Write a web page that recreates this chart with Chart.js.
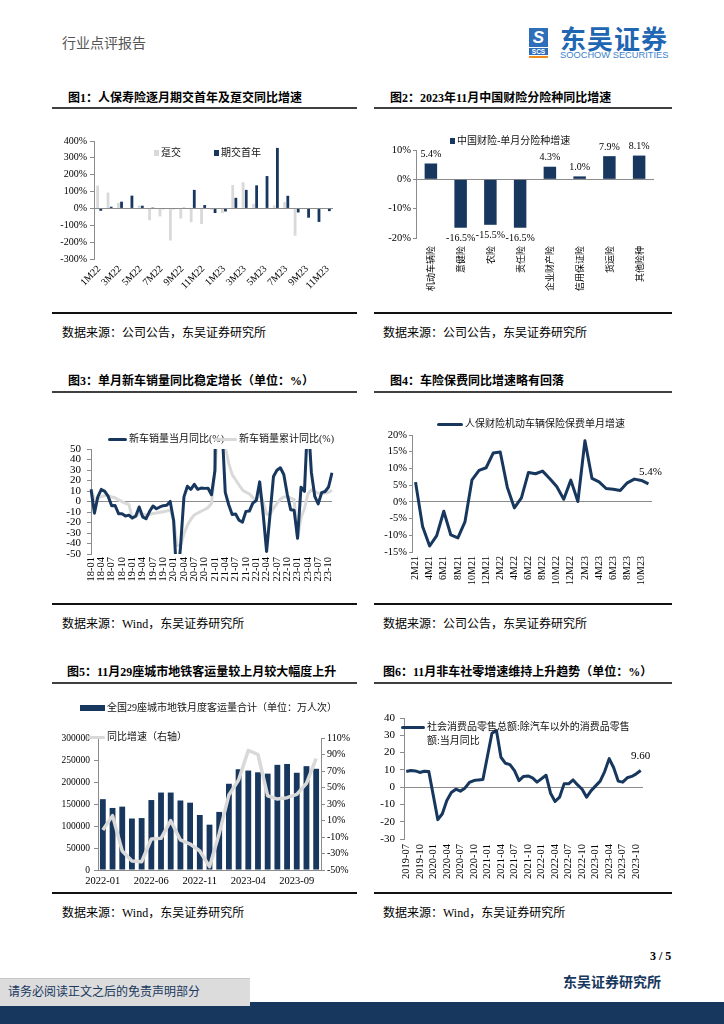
<!DOCTYPE html>
<html lang="zh-CN">
<head>
<meta charset="utf-8">
<title>行业点评报告</title>
<script src="https://cdn.jsdelivr.net/npm/chart.js"></script>
<style>
  html, body { margin: 0; padding: 0; }
  body { width: 724px; height: 1024px; position: relative; overflow: hidden; background: #fff;
         font-family: "Liberation Serif", "Noto Sans CJK SC", serif; color: #000; }
  .abs { position: absolute; white-space: nowrap; }
  .title { font-size: 12px; font-weight: bold; line-height: 14px; font-family: "Liberation Serif", "Noto Sans CJK SC", serif; }
  .rule { height: 2px; background: #404040; }
  .rule-b { height: 2px; background: #111; }
  .src { font-size: 12px; line-height: 14px; }
  .lg { font-size: 10px; line-height: 12px; color: #111; }
  canvas { position: absolute; }
</style>
</head>
<body>

<!-- 页眉 -->
<div class="abs" style="left:62px;top:35px;font-size:14px;line-height:18px;color:#555;">行业点评报告</div>
<div class="abs" style="left:529px;top:28px;width:19px;height:19px;background:#2f6fba;color:#fff;font:bold italic 17px 'Liberation Sans';text-align:center;line-height:19px;">S</div>
<div class="abs" style="left:529px;top:48px;width:19px;height:7px;background:#2f6fba;color:#fff;font:bold 6.5px 'Liberation Sans';text-align:center;line-height:7px;">SCS</div>
<div class="abs" style="left:529px;top:56px;width:19px;height:2px;background:#f08a1c;"></div>
<div class="abs" style="left:560px;top:24px;font:bold 26px 'Noto Sans CJK SC';line-height:28px;letter-spacing:1px;color:#1f66b3;">东吴证券</div>
<div class="abs" style="left:560px;top:50px;font:9.3px 'Liberation Sans';line-height:10px;color:#3b82cc;">SOOCHOW SECURITIES</div>

<!-- 标题行 -->
<div class="abs title" style="left:68px;top:91px;">图1：人保寿险逐月期交首年及趸交同比增速</div>
<div class="abs title" style="left:390px;top:91px;">图2：2023年11月中国财险分险种同比增速</div>
<div class="abs rule" style="left:52px;top:107px;width:305px;"></div>
<div class="abs rule" style="left:374px;top:107px;width:298px;"></div>

<div class="abs title" style="left:68px;top:374px;">图3：单月新车销量同比稳定增长（单位：%）</div>
<div class="abs title" style="left:390px;top:374px;">图4：车险保费同比增速略有回落</div>
<div class="abs rule" style="left:52px;top:391px;width:305px;"></div>
<div class="abs rule" style="left:374px;top:391px;width:298px;"></div>

<div class="abs title" style="left:67px;top:665px;">图5：11月29座城市地铁客运量较上月较大幅度上升</div>
<div class="abs title" style="left:383px;top:665px;">图6：11月非车社零增速维持上升趋势（单位：%）</div>
<div class="abs rule" style="left:52px;top:682px;width:305px;"></div>
<div class="abs rule" style="left:374px;top:682px;width:298px;"></div>

<!-- 图表 -->
<canvas id="c1" width="305" height="188" style="left:52px;top:125px;"></canvas>
<canvas id="c2" width="298" height="188" style="left:374px;top:125px;"></canvas>
<canvas id="c3" width="305" height="184" style="left:52px;top:420px;"></canvas>
<canvas id="c4" width="298" height="184" style="left:374px;top:420px;"></canvas>
<canvas id="c5" width="305" height="203" style="left:52px;top:690px;"></canvas>
<canvas id="c6" width="298" height="203" style="left:374px;top:690px;"></canvas>

<div class="abs rule-b" style="left:52px;top:312px;width:305px;"></div>
<div class="abs rule-b" style="left:374px;top:312px;width:298px;"></div>
<div class="abs rule-b" style="left:52px;top:603px;width:305px;"></div>
<div class="abs rule-b" style="left:374px;top:603px;width:298px;"></div>
<div class="abs rule-b" style="left:52px;top:892px;width:305px;"></div>
<div class="abs rule-b" style="left:374px;top:892px;width:298px;"></div>

<div class="abs src" style="left:62px;top:326px;">数据来源：公司公告，东吴证券研究所</div>
<div class="abs src" style="left:383px;top:326px;">数据来源：公司公告，东吴证券研究所</div>
<div class="abs src" style="left:62px;top:617px;">数据来源：Wind，东吴证券研究所</div>
<div class="abs src" style="left:383px;top:617px;">数据来源：公司公告，东吴证券研究所</div>
<div class="abs src" style="left:62px;top:906px;">数据来源：Wind，东吴证券研究所</div>
<div class="abs src" style="left:383px;top:906px;">数据来源：Wind，东吴证券研究所</div>

<!-- 页脚 -->
<div class="abs" style="left:650px;top:949px;font:bold 12px 'Liberation Serif';">3 / 5</div>
<div class="abs" style="left:563px;top:972px;font:bold 14px 'Noto Sans CJK SC';line-height:18px;color:#17375e;">东吴证券研究所</div>
<div class="abs" style="left:0;top:1002px;width:724px;height:22px;background:#17375e;"></div>
<div class="abs" style="left:0;top:978px;width:250px;height:27px;background:#dcdcdc;border-top:1px solid #c8c8c8;"></div>
<div class="abs" style="left:8px;top:983px;font:12px 'Noto Sans CJK SC';line-height:16px;color:#17375e;">请务必阅读正文之后的免责声明部分</div>

<script>
const NAVY = '#17375e';
const GREY = '#d9d9d9';
const AXIS = '#8c8c8c';

// 图1 人保寿险 趸交 / 期交首年 同比
const months1 = ['1M22','2M22','3M22','4M22','5M22','6M22','7M22','8M22','9M22','10M22','11M22','12M22',
                 '1M23','2M23','3M23','4M23','5M23','6M23','7M23','8M23','9M23','10M23','11M23'];
const dunjiao1 = [135, 94, 33, -3, 18, -70, -47, -190, -60, -82, -93, -10, -28, 139, 155, 27, 2, 18, 38, -162, -3, -3, -4];
const qijiao1 = [-14, 10, 40, 76, 16, 5, -4, -4, 4, 110, 20, -27, -18, 63, 110, 137, 192, 359, 75, -24, -55, -80, -16];

// 图2 中国财险分险种
const cats2 = ['机动车辆险','意健险','农险','责任险','企业财产险','信用保证险','货运险','其他险种'];
const vals2 = [5.4, -16.5, -15.5, -16.5, 4.3, 1.0, 7.9, 8.1];

// 图3 新车销量
const months3 = [
  '18-01','18-02','18-03','18-04','18-05','18-06','18-07','18-08','18-09','18-10','18-11','18-12',
  '19-01','19-02','19-03','19-04','19-05','19-06','19-07','19-08','19-09','19-10','19-11','19-12',
  '20-01','20-02','20-03','20-04','20-05','20-06','20-07','20-08','20-09','20-10','20-11','20-12',
  '21-01','21-02','21-03','21-04','21-05','21-06','21-07','21-08','21-09','21-10','21-11','21-12',
  '22-01','22-02','22-03','22-04','22-05','22-06','22-07','22-08','22-09','22-10','22-11','22-12',
  '23-01','23-02','23-03','23-04','23-05','23-06','23-07','23-08','23-09','23-10','23-11'];
const dangyue3 = [
  11.6, -11.1, 4.7, 11.5, 9.6, 4.8, -4.0, -3.8, -11.6, -11.7, -13.9, -13.0,
  -15.8, -13.8, -5.2, -14.6, -16.4, -9.6, -4.3, -6.9, -5.2, -4.0, -3.6, 0.1,
  -18.0, -79.1, -43.3, 4.4, 14.5, 11.6, 16.4, 11.6, 12.8, 12.5, 12.6, 6.4,
  29.5, 364.6, 74.9, 8.6, -3.1, -12.4, -11.9, -17.8, -19.6, -9.4, -9.1, -1.6,
  0.9, 18.7, -11.7, -47.6, -12.6, 23.8, 29.7, 32.1, 25.7, 6.9, -7.9, -8.4,
  -35.0, 13.5, 9.7, 82.7, 27.9, 4.8, -2.3, 8.4, 9.5, 13.8, 27.4];
const leiji3 = [
  11.6, 2.0, 2.8, 4.8, 5.6, 5.6, 4.2, 3.5, 1.5, -0.1, -1.7, -2.8,
  -15.8, -14.9, -11.3, -12.1, -12.9, -12.4, -11.4, -11.0, -10.3, -9.7, -9.1, -8.2,
  -18.0, -42.0, -42.4, -31.0, -22.6, -16.9, -12.9, -11.0, -9.3, -7.6, -5.8, -1.9,
  29.5, 76.4, 75.6, 51.8, 36.6, 25.6, 20.7, 15.7, 11.0, 8.8, 7.3, 3.8,
  0.9, 7.3, 0.0, -12.1, -12.2, -6.6, -1.9, 2.1, 4.4, 4.6, 3.3, 2.1,
  -35.0, -15.2, -6.7, 7.1, 11.1, 9.8, 7.8, 7.8, 8.0, 8.8, 10.8];

// 图4 人保财险车险保费单月增速
const months4 = ['2M21','3M21','4M21','5M21','6M21','7M21','8M21','9M21','10M21','11M21','12M21',
                 '1M22','2M22','3M22','4M22','5M22','6M22','7M22','8M22','9M22','10M22','11M22','12M22',
                 '1M23','2M23','3M23','4M23','5M23','6M23','7M23','8M23','9M23','10M23','11M23'];
const chexian4 = [5.9, -7.4, -13.2, -10.1, -2.8, -9.9, -10.8, -6.0, 6.6, 9.4, 10.2,
                  14.6, 14.9, 4.4, -1.8, 1.2, 8.8, 8.4, 9.2, 7.0, 4.6, 0.8, 6.5,
                  0.1, 18.3, 7.0, 6.0, 4.0, 3.8, 3.4, 5.7, 6.8, 6.4, 5.4];

// 图5 29座城市地铁客运量
const months5 = ['2022-01','2022-02','2022-03','2022-04','2022-05','2022-06','2022-07','2022-08','2022-09','2022-10','2022-11','2022-12',
                 '2023-01','2023-02','2023-03','2023-04','2023-05','2023-06','2023-07','2023-08','2023-09','2023-10','2023-11'];
const keyun5 = [161000, 141000, 144000, 117000, 118000, 159000, 176000, 176000, 158000, 153000, 125000, 103000,
                132000, 196000, 229000, 226000, 222000, 219000, 239000, 241000, 221000, 236000, 230000];
const tongbi5 = [-1.5, 15.9, -27, -39, -40, -12.4, -11.6, 9.8, -13.6, -18.5, -27, -46,
                 -6, 41, 59, 95, 90, 40, 36, 37.7, 41.7, 55, 85];

// 图6 除汽车以外的消费品零售额当月同比（1月无单月值）
const months6 = ['2019-07','2019-08','2019-09','2019-10','2019-11','2019-12',
  '2020-01','2020-02','2020-03','2020-04','2020-05','2020-06','2020-07','2020-08','2020-09','2020-10','2020-11','2020-12',
  '2021-01','2021-02','2021-03','2021-04','2021-05','2021-06','2021-07','2021-08','2021-09','2021-10','2021-11','2021-12',
  '2022-01','2022-02','2022-03','2022-04','2022-05','2022-06','2022-07','2022-08','2022-09','2022-10','2022-11','2022-12',
  '2023-01','2023-02','2023-03','2023-04','2023-05','2023-06','2023-07','2023-08','2023-09','2023-10','2023-11'];
const shelin6 = [9.0, 9.6, 9.4, 8.5, 9.2, 9.0,
  null, -18.8, -15.4, -7.7, -3.1, -1.2, -2.3, -0.6, 2.7, 3.8, 4.2, 4.4,
  null, 31.2, 32.7, 17.3, 13.8, 13.0, 9.6, 3.8, 6.2, 6.5, 5.4, 2.9,
  null, 6.9, -3.5, -8.3, -5.8, 1.9, 1.9, 4.2, 1.3, -1.2, -5.8, -2.0,
  null, 3.5, 9.0, 16.5, 11.2, 3.5, 2.9, 5.4, 6.2, 7.7, 9.6];

Chart.defaults.font.family = '"Liberation Serif", "Noto Sans CJK SC", serif';
Chart.defaults.color = '#000';
Chart.defaults.animation = false;
Chart.defaults.plugins.legend.display = false;
Chart.defaults.plugins.tooltip.enabled = false;

// 只画0轴的横线，左侧保留刻度
function zeroGrid(len) {
  return {
    color: c => (c.tick && c.tick.value === 0 ? AXIS : 'rgba(0,0,0,0)'),
    tickColor: AXIS,
    tickLength: len,
    drawTicks: true
  };
}
function everyN(n) {
  return function (v, i) { return i % n === 0 ? this.getLabelForValue(v) : ''; };
}

function legend(x, y, kind, color, text, sw) {
  const s = document.createElement('div');
  s.className = 'abs';
  if (kind === 'box') s.style.cssText = `left:${x}px;top:${y - 3}px;width:5px;height:6px;background:${color}`;
  else if (kind === 'rect') s.style.cssText = `left:${x}px;top:${y - 3}px;width:${sw}px;height:6px;background:${color}`;
  else s.style.cssText = `left:${x}px;top:${y - 1.5}px;width:${sw}px;height:3px;background:${color};border-radius:1.5px`;
  document.body.appendChild(s);
  const t = document.createElement('div');
  t.className = 'abs lg';
  t.style.left = (x + (kind === 'box' ? 7 : sw + 2)) + 'px';
  t.style.whiteSpace = 'pre';
  t.style.lineHeight = '14px';
  t.style.top = (y - 7) + 'px';
  t.textContent = text;
  document.body.appendChild(t);
}

// 柱子端点数值
const barLabels = {
  id: 'barLabels',
  afterDatasetsDraw(chart) {
    const c = chart.ctx;
    const meta = chart.getDatasetMeta(0);
    const data = chart.data.datasets[0].data;
    c.save();
    c.font = '10px "Liberation Serif"';
    c.fillStyle = '#000';
    c.textAlign = 'center';
    meta.data.forEach((bar, i) => {
      const v = data[i];
      if (v >= 0) { c.textBaseline = 'bottom'; c.fillText(v.toFixed(1) + '%', bar.x, bar.y - 4); }
      else { c.textBaseline = 'top'; c.fillText(v.toFixed(1) + '%', bar.x, bar.y + 6); }
    });
    c.restore();
  }
};

// 折线末端数值
const endLabel = {
  id: 'endLabel',
  afterDatasetsDraw(chart, args, opts) {
    const meta = chart.getDatasetMeta(0);
    const data = chart.data.datasets[0].data;
    const pt = meta.data[meta.data.length - 1];
    const c = chart.ctx;
    c.save();
    c.font = opts.font;
    c.fillStyle = '#000';
    c.textAlign = 'center';
    c.textBaseline = 'middle';
    c.fillText(data[data.length - 1].toFixed(opts.digits) + opts.suffix, pt.x + opts.dx, pt.y + opts.dy);
    c.restore();
  }
};

// 图1
new Chart(document.getElementById('c1'), {
  type: 'bar',
  data: {
    labels: months1,
    datasets: [
      { label: '趸交', data: dunjiao1, backgroundColor: GREY, categoryPercentage: 0.6, barPercentage: 0.9 },
      { label: '期交首年', data: qijiao1, backgroundColor: NAVY, categoryPercentage: 0.6, barPercentage: 0.9 }
    ]
  },
  options: {
    responsive: false,
    layout: { padding: { top: 16, right: 24, left: 0, bottom: 0 } },
    scales: {
      x: {
        grid: { display: false, drawTicks: false }, border: { display: false },
        ticks: { autoSkip: false, minRotation: 45, maxRotation: 45, padding: 4, font: { size: 10 }, callback: everyN(2) },
        afterFit(s) { s.height = 54; }
      },
      y: {
        min: -300, max: 400,
        ticks: { stepSize: 100, padding: 3, font: { size: 10 }, callback: v => v + '%' },
        grid: zeroGrid(4), border: { display: true, color: AXIS },
        afterFit(s) { s.width = 42; }
      }
    }
  }
});
legend(154, 153, 'box', GREY, '趸交');
legend(214, 153, 'box', NAVY, '期交首年');

// 图2
new Chart(document.getElementById('c2'), {
  type: 'bar',
  data: {
    labels: cats2,
    datasets: [{ label: '中国财险-单月分险种增速', data: vals2, backgroundColor: NAVY, categoryPercentage: 1, barPercentage: 0.42 }]
  },
  plugins: [barLabels],
  options: {
    responsive: false,
    layout: { padding: { top: 25, right: 18, left: 0, bottom: 0 } },
    scales: {
      x: {
        grid: { display: false, drawTicks: false }, border: { display: false },
        ticks: { autoSkip: false, minRotation: 90, maxRotation: 90, padding: 8,
                 font: { family: '"Noto Sans CJK SC"', size: 9 } },
        afterFit(s) { s.height = 75; }
      },
      y: {
        min: -20, max: 10,
        ticks: { stepSize: 5, padding: 2, font: { size: 10.5 }, callback: v => v + '%' },
        grid: zeroGrid(3), border: { display: true, color: AXIS },
        afterFit(s) { s.width = 42; }
      }
    }
  }
});
legend(450, 141, 'box', NAVY, '中国财险-单月分险种增速');

// 图3
new Chart(document.getElementById('c3'), {
  type: 'line',
  data: {
    labels: months3,
    datasets: [
      { label: '新车销量当月同比(%)', data: dangyue3, borderColor: NAVY, borderWidth: 3, pointRadius: 0, borderJoinStyle: 'round' },
      { label: '新车销量累计同比(%)', data: leiji3, borderColor: GREY, borderWidth: 3, pointRadius: 0, borderJoinStyle: 'round' }
    ]
  },
  options: {
    responsive: false,
    layout: { padding: { top: 29, right: 25, left: 0, bottom: 0 } },
    scales: {
      x: {
        offset: false,
        grid: { display: false, drawTicks: false }, border: { display: false },
        ticks: { autoSkip: false, minRotation: 90, maxRotation: 90, padding: 3, font: { size: 10.5 }, callback: everyN(3) },
        afterFit(s) { s.height = 50; }
      },
      y: {
        min: -50, max: 50,
        ticks: { stepSize: 10, autoSkip: false, padding: 6, font: { size: 11 } },
        grid: zeroGrid(4), border: { display: true, color: AXIS },
        afterFit(s) { s.width = 39; }
      }
    }
  }
});
legend(108, 439, 'line', NAVY, '新车销量当月同比(%)', 19);
legend(214, 439, 'line', GREY, '新车销量累计同比(%)', 23);

// 图4
new Chart(document.getElementById('c4'), {
  type: 'line',
  data: {
    labels: months4,
    datasets: [{ label: '人保财险机动车辆保险保费单月增速', data: chexian4, borderColor: NAVY, borderWidth: 3, pointRadius: 0, borderJoinStyle: 'round' }]
  },
  plugins: [endLabel],
  options: {
    responsive: false,
    layout: { padding: { top: 15, right: 20, left: 0, bottom: 0 } },
    plugins: { endLabel: { font: '11px "Liberation Serif"', digits: 1, suffix: '%', dx: 2, dy: -12 } },
    scales: {
      x: {
        offset: true,
        grid: { display: false, drawTicks: false }, border: { display: false },
        ticks: { autoSkip: false, minRotation: 90, maxRotation: 90, padding: 4, font: { size: 10 }, callback: everyN(2) },
        afterFit(s) { s.height = 52; }
      },
      y: {
        min: -15, max: 20,
        ticks: { stepSize: 5, padding: 2, font: { size: 10.5 }, callback: v => v + '%' },
        grid: zeroGrid(3), border: { display: true, color: AXIS },
        afterFit(s) { s.width = 38; }
      }
    }
  }
});
legend(437, 424, 'line', NAVY, '人保财险机动车辆保险保费单月增速', 26);

// 图5
new Chart(document.getElementById('c5'), {
  type: 'bar',
  data: {
    labels: months5,
    datasets: [
      { type: 'line', label: '同比增速（右轴）', data: tongbi5, yAxisID: 'y1', borderColor: GREY, borderWidth: 3.5,
        pointRadius: 0, borderJoinStyle: 'round', order: 0 },
      { type: 'bar', label: '全国29座城市地铁月度客运量合计（单位：万人次）', data: keyun5, yAxisID: 'y',
        backgroundColor: NAVY, categoryPercentage: 1, barPercentage: 0.6, order: 1 }
    ]
  },
  options: {
    responsive: false,
    layout: { padding: { top: 48, right: 0, left: 0, bottom: 0 } },
    scales: {
      x: {
        grid: { display: false, drawTicks: false }, border: { display: true, color: AXIS },
        ticks: { autoSkip: false, maxRotation: 0, minRotation: 0, padding: 5, font: { size: 10.5 }, callback: everyN(5) },
        afterFit(s) { s.height = 23; }
      },
      y: {
        position: 'left', min: 0, max: 300000,
        ticks: { stepSize: 50000, padding: 4, font: { size: 9.5 }, callback: v => String(v) },
        grid: { drawOnChartArea: false, tickColor: AXIS, tickLength: 4 }, border: { display: true, color: AXIS },
        afterFit(s) { s.width = 46; }
      },
      y1: {
        position: 'right', min: -50, max: 110,
        ticks: { stepSize: 20, padding: 2, font: { size: 10 }, callback: v => v + '%' },
        grid: { drawOnChartArea: false, tickColor: AXIS, tickLength: 4 }, border: { display: true, color: AXIS },
        afterFit(s) { s.width = 36; }
      }
    }
  }
});
legend(80, 708, 'rect', NAVY, '全国29座城市地铁月度客运量合计（单位：万人次）', 25);
legend(87, 737, 'line', GREY, '同比增速（右轴）', 18);

// 图6
new Chart(document.getElementById('c6'), {
  type: 'line',
  data: {
    labels: months6,
    datasets: [{ label: '社会消费品零售总额:除汽车以外的消费品零售额:当月同比', data: shelin6, spanGaps: true,
                 borderColor: NAVY, borderWidth: 3, pointRadius: 0, borderJoinStyle: 'round' }]
  },
  plugins: [endLabel],
  options: {
    responsive: false,
    layout: { padding: { top: 28, right: 29, left: 0, bottom: 0 } },
    plugins: { endLabel: { font: '11px "Liberation Serif"', digits: 2, suffix: '', dx: 0, dy: -14 } },
    scales: {
      x: {
        offset: true,
        grid: { display: false, drawTicks: false }, border: { display: false },
        ticks: { autoSkip: false, minRotation: 90, maxRotation: 90, padding: 5, font: { size: 10.5 }, callback: everyN(3) },
        afterFit(s) { s.height = 54; }
      },
      y: {
        min: -30, max: 40,
        ticks: { stepSize: 10, padding: 5, font: { size: 11 } },
        grid: zeroGrid(4), border: { display: true, color: AXIS },
        afterFit(s) { s.width = 30; }
      }
    }
  }
});
legend(401, 727, 'line', NAVY, '社会消费品零售总额:除汽车以外的消费品零售\n额:当月同比', 24);
</script>
</body>
</html>
